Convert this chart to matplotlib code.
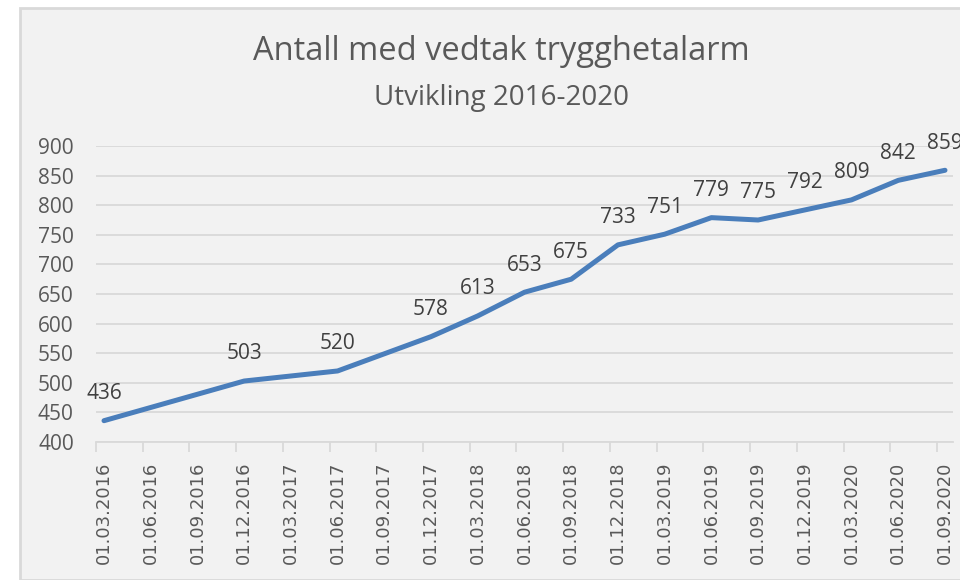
import matplotlib.pyplot as plt
from matplotlib.patches import Rectangle
import numpy as np

dates = ["01.03.2016", "01.06.2016", "01.09.2016", "01.12.2016",
         "01.03.2017", "01.06.2017", "01.09.2017", "01.12.2017",
         "01.03.2018", "01.06.2018", "01.09.2018", "01.12.2018",
         "01.03.2019", "01.06.2019", "01.09.2019", "01.12.2019",
         "01.03.2020", "01.06.2020", "01.09.2020"]
# None = no value registered for that date (line is drawn straight across)
values = [436, None, None, 503, None, 520, None, 578, 613, 653, 675,
          733, 751, 779, 775, 792, 809, 842, 859]
yticks = [400, 450, 500, 550, 600, 650, 700, 750, 800, 850, 900]

W, H = 960, 580
fig = plt.figure(figsize=(W / 100, H / 100), dpi=100)
fig.patch.set_facecolor("white")

# chart area with its grey border
fig.patches.append(Rectangle((20 / W, 0), 1, 1 - 8 / H, transform=fig.transFigure,
                             facecolor="#f2f2f2", edgecolor="#d9d9d9", linewidth=2,
                             zorder=-5))

ax = fig.add_axes([96 / W, 1 - 442 / H, (953 - 96) / W, 296 / H])
ax.set_facecolor("none")

xs = [i for i, v in enumerate(values) if v is not None]
ys = [v for v in values if v is not None]
ax.plot(xs, ys, color="#4a7ebb", linewidth=3.6, solid_capstyle="round",
        solid_joinstyle="round", zorder=3, clip_on=False)

for x, y in zip(xs, ys):
    ax.annotate(str(y), (x, y), xytext=(0, 12), textcoords="offset points",
                ha="center", va="bottom", fontsize=15, color="#404040",
                family="Open Sans", annotation_clip=False)

off = 8 / 46.7
ax.set_xlim(-off, 18 + off)
ax.set_ylim(400, 900)
ax.set_yticks(yticks)
ax.set_yticklabels([str(t) for t in yticks], family="Open Sans", fontsize=15,
                   color="#595959")
ax.tick_params(axis="y", length=0, pad=16)
ax.grid(axis="y", color="#d9d9d9", linewidth=1.3)
ax.set_axisbelow(True)

ax.set_xticks(np.arange(len(dates)))
ax.set_xticklabels(dates, rotation=90, family="DejaVu Sans", fontsize=13,
                   color="#595959")
ax.tick_params(axis="x", length=0, pad=14)
ax.set_xticks(np.arange(len(dates)) - off, minor=True)
ax.tick_params(axis="x", which="minor", length=7, color="#d9d9d9", width=1.3)

for s in ["top", "right", "left"]:
    ax.spines[s].set_visible(False)
ax.spines["bottom"].set_color("#d9d9d9")
ax.spines["bottom"].set_linewidth(1.3)

fig.text(501 / W, 1 - 52 / H, "Antall med vedtak trygghetalarm", ha="center",
         va="center", family="Open Sans", fontsize=23.5, color="#595959")
fig.text(501 / W, 1 - 98 / H, "Utvikling 2016-2020", ha="center",
         va="center", family="Open Sans", fontsize=20, color="#595959")

fig.savefig("out.png", dpi=100, facecolor=fig.get_facecolor())
